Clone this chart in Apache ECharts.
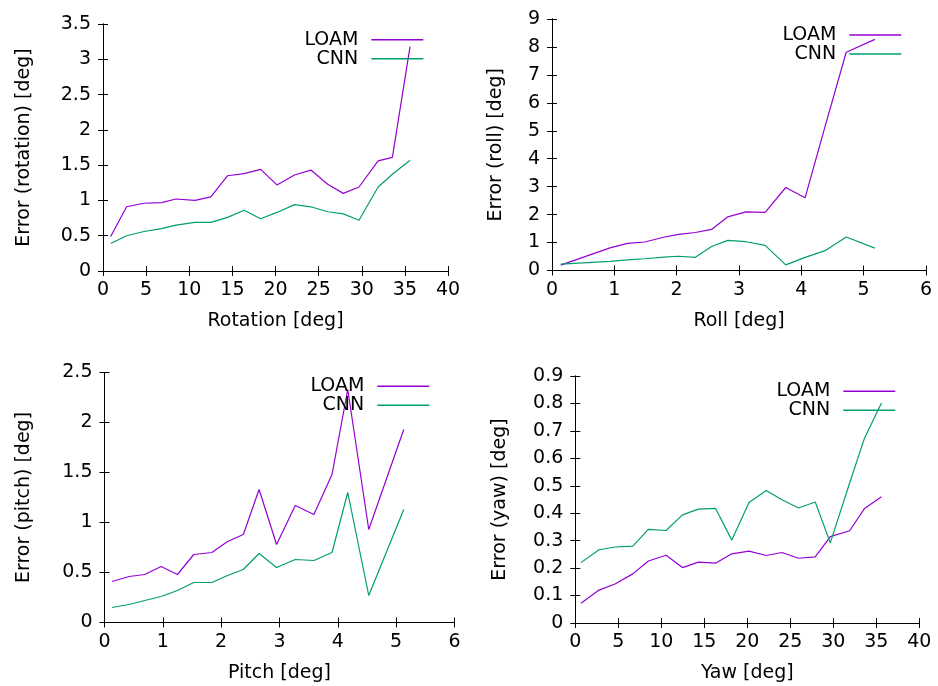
<!DOCTYPE html>
<html>
<head>
<meta charset="utf-8">
<script src="https://cdn.jsdelivr.net/npm/echarts@6/dist/echarts.min.js"></script>
<style>html,body{margin:0;padding:0;background:#fff}#c{width:938px;height:686px}</style>
</head>
<body>
<div id="c"></div>
<script>
// Rotation panel
var rotX = [0.89, 2.74, 4.75, 6.8, 8.46, 10.67, 12.5, 14.45, 16.35, 18.28, 20.17, 22.2, 24.1, 26.05, 27.87, 29.68, 31.9, 33.55, 35.6];
var rotLOAM = [0.49, 0.91, 0.96, 0.97, 1.02, 1.0, 1.05, 1.35, 1.38, 1.44, 1.22, 1.36, 1.43, 1.23, 1.1, 1.19, 1.56, 1.61, 3.18];
var rotCNN = [0.39, 0.50, 0.56, 0.60, 0.65, 0.69, 0.69, 0.76, 0.86, 0.74, 0.83, 0.94, 0.91, 0.84, 0.81, 0.72, 1.19, 1.37, 1.57];
// Roll panel
var rollX = [0.14, 0.93, 1.21, 1.49, 1.79, 2.03, 2.30, 2.56, 2.82, 3.11, 3.42, 3.75, 4.06, 4.38, 4.72, 5.18];
var rollLOAM = [0.19, 0.81, 0.97, 1.02, 1.19, 1.29, 1.36, 1.47, 1.92, 2.10, 2.08, 2.97, 2.60, 5.15, 7.81, 8.27];
var rollCNN = [0.23, 0.33, 0.38, 0.42, 0.48, 0.51, 0.47, 0.86, 1.08, 1.03, 0.90, 0.20, 0.47, 0.71, 1.20, 0.80];
// Pitch panel
var pitchX = [0.13, 0.42, 0.69, 0.97, 1.25, 1.53, 1.84, 2.11, 2.38, 2.65, 2.95, 3.27, 3.59, 3.90, 4.17, 4.53, 5.13];
var pitchLOAM = [0.41, 0.46, 0.48, 0.56, 0.48, 0.68, 0.70, 0.81, 0.88, 1.33, 0.78, 1.17, 1.08, 1.48, 2.33, 0.93, 1.93];
var pitchCNN = [0.15, 0.18, 0.22, 0.26, 0.32, 0.40, 0.40, 0.47, 0.53, 0.69, 0.55, 0.63, 0.62, 0.70, 1.30, 0.27, 1.13];
// Yaw panel
var yawX = [0.66, 2.76, 4.62, 6.68, 8.5, 10.56, 12.46, 14.32, 16.3, 18.2, 20.2, 22.2, 24.03, 25.96, 27.9, 29.65, 31.9, 33.6, 35.6];
var yawLOAM = [0.072, 0.120, 0.142, 0.179, 0.226, 0.247, 0.202, 0.222, 0.218, 0.252, 0.262, 0.246, 0.257, 0.236, 0.241, 0.315, 0.336, 0.416, 0.460];
var yawCNN = [0.220, 0.267, 0.277, 0.280, 0.341, 0.337, 0.394, 0.415, 0.418, 0.302, 0.439, 0.483, 0.449, 0.419, 0.441, 0.292, 0.51, 0.671, 0.802];

var seriesNames = ['LOAM', 'CNN'];
var colors = ['#9400d3', '#009e73'];

var panels = [
  {x: rotX, a: rotLOAM, b: rotCNN, xName: 'Rotation [deg]', yName: 'Error (rotation) [deg]',
   xMin: 0, xMax: 40, xInt: 5, yMin: 0, yMax: 3.5, yInt: 0.5, yNameGap: 69.5,
   grid: {left: 103, top: 24, width: 345, height: 247}, legTop: 30.2, legRight: 514},
  {x: rollX, a: rollLOAM, b: rollCNN, xName: 'Roll [deg]', yName: 'Error (roll) [deg]',
   xMin: 0, xMax: 6, xInt: 1, yMin: 0, yMax: 9, yInt: 1, yNameGap: 46,
   grid: {left: 552, top: 19, width: 374, height: 251.5}, legTop: 25.5, legRight: 36},
  {x: pitchX, a: pitchLOAM, b: pitchCNN, xName: 'Pitch [deg]', yName: 'Error (pitch) [deg]',
   xMin: 0, xMax: 6, xInt: 1, yMin: 0, yMax: 2.5, yInt: 0.5, yNameGap: 71,
   grid: {left: 104.5, top: 372.5, width: 350, height: 250}, legTop: 376.8, legRight: 508},
  {x: yawX, a: yawLOAM, b: yawCNN, xName: 'Yaw [deg]', yName: 'Error (yaw) [deg]',
   xMin: 0, xMax: 40, xInt: 5, yMin: 0, yMax: 0.9, yInt: 0.1, yNameGap: 66,
   grid: {left: 575.3, top: 376, width: 344, height: 247}, legTop: 381.8, legRight: 42}
];

var FONT = 'DejaVu Sans';
var FS = 19;
var option = {
  backgroundColor: '#fff',
  animation: false,
  textStyle: {fontFamily: FONT},
  grid: [], xAxis: [], yAxis: [], series: [], legend: []
};

function pairs(xs, ys) {
  var out = [];
  for (var i = 0; i < xs.length; i++) out.push([xs[i], ys[i]]);
  return out;
}

panels.forEach(function (p, i) {
  option.grid.push(Object.assign({containLabel: false, show: false}, p.grid));
  var lineStyle = {color: '#000', width: 1};
  option.xAxis.push({
    type: 'value', gridIndex: i, position: 'bottom', min: p.xMin, max: p.xMax, interval: p.xInt,
    name: p.xName, nameLocation: 'middle', nameGap: 41,
    nameTextStyle: {fontSize: FS, color: '#000', fontFamily: FONT},
    axisLine: {show: true, lineStyle: lineStyle},
    axisTick: {show: true, inside: true, length: 5, lineStyle: lineStyle},
    axisLabel: {fontSize: FS, color: '#000', margin: 10, fontFamily: FONT},
    splitLine: {show: false}
  });
  option.xAxis.push({
    type: 'value', gridIndex: i, position: 'top', min: p.xMin, max: p.xMax, interval: p.xInt,
    axisLine: {show: true, lineStyle: lineStyle},
    axisTick: {show: true, inside: true, length: 5, lineStyle: lineStyle},
    axisLabel: {show: false}, splitLine: {show: false}
  });
  option.yAxis.push({
    type: 'value', gridIndex: i, position: 'left', min: p.yMin, max: p.yMax, interval: p.yInt,
    name: p.yName, nameLocation: 'middle', nameGap: p.yNameGap,
    nameTextStyle: {fontSize: FS, color: '#000', fontFamily: FONT},
    axisLine: {show: true, lineStyle: lineStyle},
    axisTick: {show: true, inside: true, length: 5, lineStyle: lineStyle},
    axisLabel: {fontSize: FS, color: '#000', margin: 12, fontFamily: FONT},
    splitLine: {show: false}
  });
  option.yAxis.push({
    type: 'value', gridIndex: i, position: 'right', min: p.yMin, max: p.yMax, interval: p.yInt,
    axisLine: {show: true, lineStyle: lineStyle},
    axisTick: {show: true, inside: true, length: 5, lineStyle: lineStyle},
    axisLabel: {show: false}, splitLine: {show: false}
  });
  [p.a, p.b].forEach(function (ys, k) {
    option.series.push({
      type: 'line', name: seriesNames[k], xAxisIndex: 2 * i, yAxisIndex: 2 * i,
      data: pairs(p.x, ys), symbol: 'none', showSymbol: false,
      lineStyle: {color: colors[k], width: 1.2}, itemStyle: {color: colors[k]}
    });
  });
  option.legend.push({
    orient: 'vertical', right: p.legRight, top: p.legTop, align: 'right', padding: 0,
    data: seriesNames, itemWidth: 52, itemHeight: 20, itemGap: 0,
    selectedMode: false,
    itemStyle: {opacity: 0},
    lineStyle: {width: 1.4},
    textStyle: {fontSize: FS, color: '#000', fontFamily: FONT, padding: [0, 8, 0, 0]}
  });
});

var chart = echarts.init(document.getElementById('c'), null, {renderer: 'canvas'});
chart.setOption(option);
</script>
</body>
</html>
